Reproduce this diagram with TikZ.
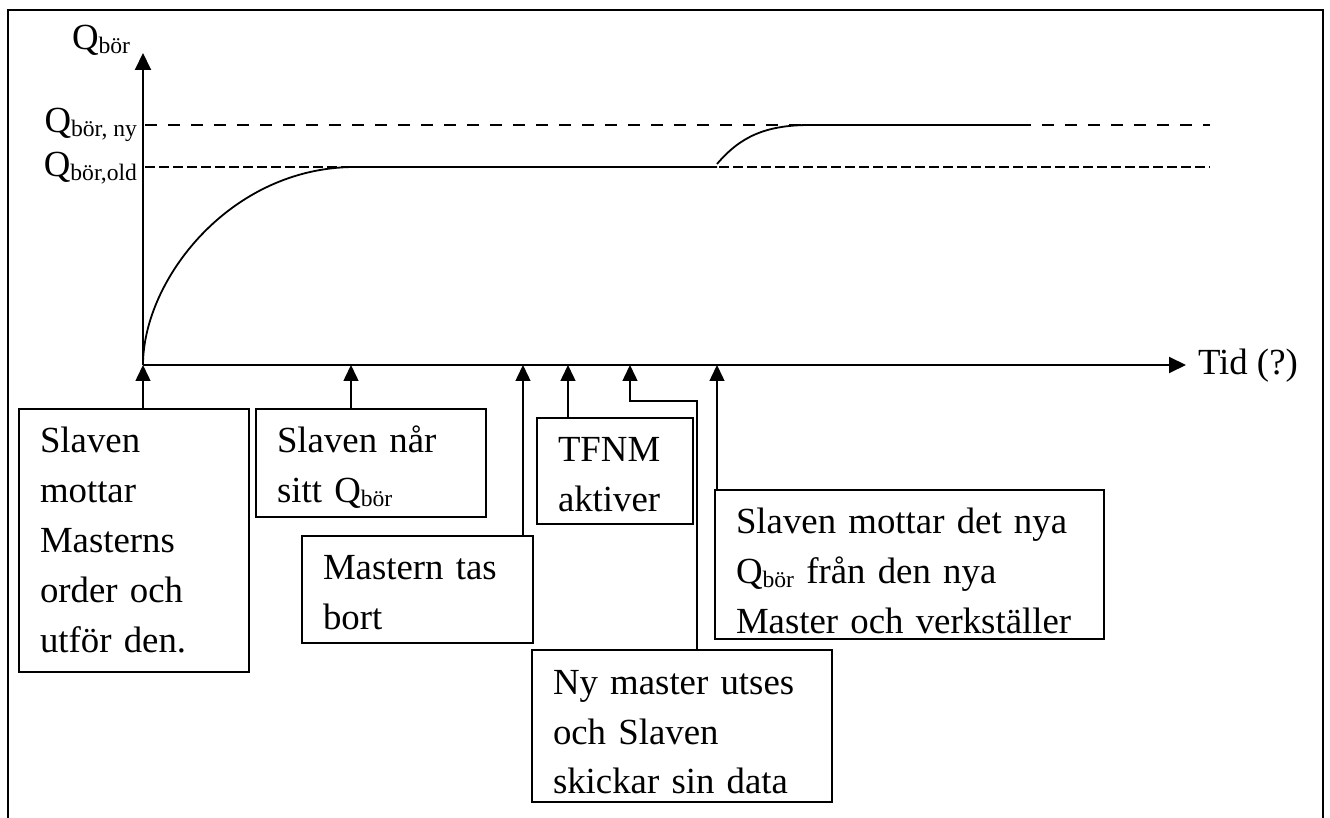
\documentclass[tikz,border=0pt]{standalone}
\usepackage{fontspec}
\setmainfont{Liberation Serif}
\usetikzlibrary{arrows.meta}
\newcommand{\qsub}[1]{\raisebox{-2pt}{\fontsize{11.8}{12}\selectfont #1}}
\begin{document}
\begin{tikzpicture}[x=0.5pt,y=-0.5pt,
  txt/.style={font=\fontsize{18.4}{25}\selectfont, inner sep=0pt, outer sep=0pt},
  bx/.style={draw, line width=0.75pt, anchor=north west, align=left, inner ysep=0pt,
    inner xsep=10.5pt, outer sep=0pt, font=\fontsize{18.4}{25}\selectfont, text height=22pt},
  axis/.style={line width=1pt, -{Triangle[length=8.5pt,width=8pt]}},
  arr/.style={line width=0.75pt, -{Triangle[length=8pt,width=7.5pt]}},
  curve/.style={line width=0.9pt},
  dashny/.style={line width=0.9pt, dash pattern=on 6pt off 5.5pt},
  dashold/.style={line width=0.9pt, dash pattern=on 5pt off 2pt}]
\useasboundingbox (0,0) rectangle (1330,818);
% frame
\draw[line width=1.25pt] (8,818) -- (8,10) -- (1323,10) -- (1323,818);
% axes
\coordinate (O) at (143,365);
\coordinate (ytip) at (143,53);
\coordinate (xtip) at (1186,365);
\draw[axis] (O) -- (ytip);
\draw[axis] (O) -- (xtip);
% axis labels
\node[txt, anchor=base west] (ql) at (72,50) {Q\qsub{bör}};
\node[txt, anchor=base east] (qny) at (137,133) {Q\qsub{bör, ny}};
\node[txt, anchor=base east] (qold) at (137,177) {Q\qsub{bör,old}};
\node[txt, anchor=base west] (tid) at (1198,375) {Tid (?)};
% dashed levels
\draw[dashny] (145,125) -- (1210,125);
\draw[dashold] (145,167) -- (1210,167);
% response curves
\draw[curve] (O) .. controls (143,280) and (230,167) .. (355,167) -- (717,167);
\draw[curve] (717,164) .. controls (740,137) and (765,125) .. (810,125) -- (1030,125);
% boxes
\node[bx, text width=94pt, text depth=109.5pt] (b1) at (19,409)
  {Slaven\\mottar\\Masterns\\order och\\utför den.};
\node[bx, text width=94pt, text depth=32pt] (b2) at (256,409)
  {Slaven når\\sitt Q\qsub{bör}};
\node[bx, text width=94.5pt, text depth=31.5pt] (b3) at (302,536)
  {Mastern tas\\bort};
\node[bx, text width=57pt, text depth=31pt] (b4) at (537,418)
  {TFNM\\aktiver};
\node[bx, text width=173.5pt, text depth=52.5pt] (b5) at (715,490)
  {Slaven mottar det nya\\Q\qsub{bör} från den nya\\Master och verkställer};
\node[bx, text width=129pt, text depth=54pt] (b6) at (532,650)
  {Ny master utses\\och Slaven\\skickar sin data};
% connectors
\coordinate (t2) at (351,365);
\coordinate (t3) at (523,365);
\coordinate (t4) at (568,365);
\coordinate (t5) at (717,365);
\coordinate (t6) at (630,365);
\coordinate (e6) at (697,401);
\draw[arr] (b1.north -| O) -- (O);
\draw[arr] (b2.north -| t2) -- (t2);
\draw[arr] (b3.north -| t3) -- (t3);
\draw[arr] (b4.north -| t4) -- (t4);
\draw[arr] (b5.north -| t5) -- (t5);
\draw[arr] (b6.north -| e6) -- (e6) -| (t6);
\end{tikzpicture}
\end{document}
